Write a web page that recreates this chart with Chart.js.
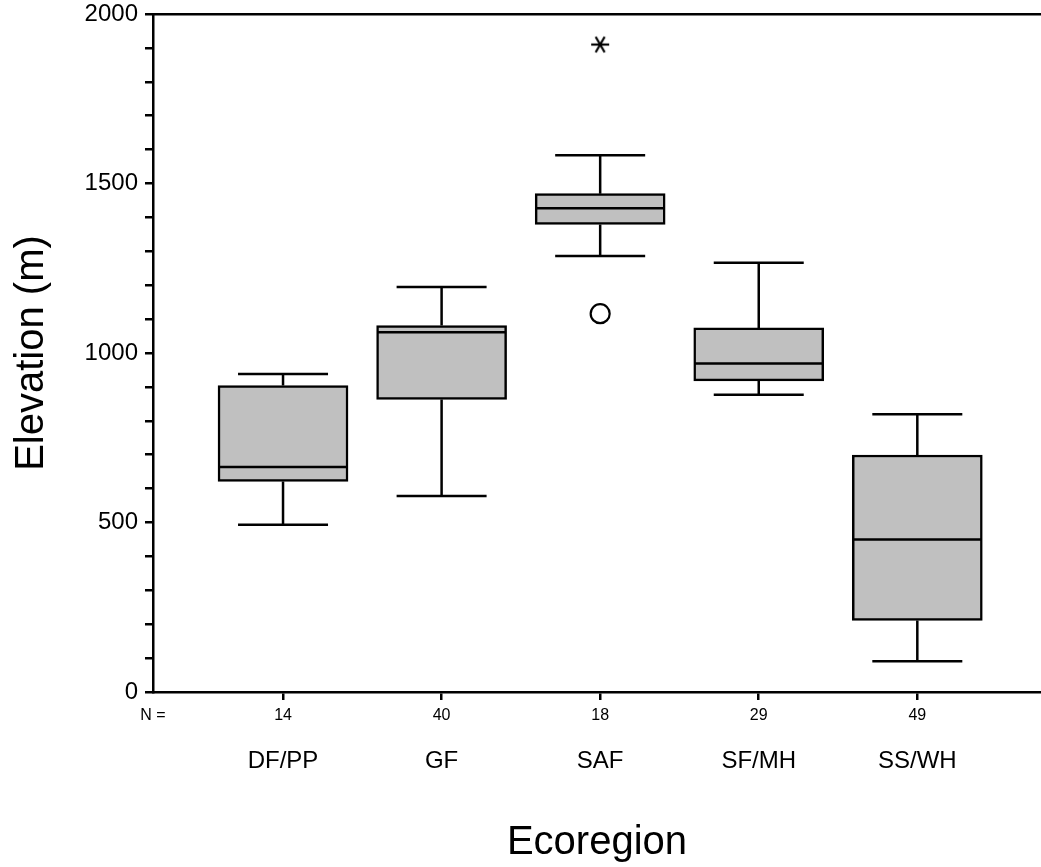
<!DOCTYPE html>
<html><head><meta charset="utf-8">
<script src="https://cdn.jsdelivr.net/npm/chart.js@4/dist/chart.umd.min.js"></script>
<style>html,body{margin:0;padding:0;background:#fff}canvas{display:block}</style>
</head><body>
<canvas id="c" width="1041" height="867"></canvas>
<script>
// ---- data ----
const categories = ['DF/PP', 'GF', 'SAF', 'SF/MH', 'SS/WH'];
const counts = [14, 40, 18, 29, 49];
const whiskerLow = [493, 578, 1286, 877, 91];
const q1 = [621, 863, 1379, 918, 211];
const medians = [664, 1061, 1427, 969, 450];
const q3 = [904, 1081, 1470, 1074, 699];
const whiskerHigh = [938, 1195, 1583, 1266, 819];
const outliers = [{cat: 'SAF', value: 1116}];
const extremes = [{cat: 'SAF', value: 1910}];
const yLabelTicks = [0, 500, 1000, 1500, 2000];

// ---- layout settings ----
const X_MIN = 0.18, X_MAX = 5.78;
const FONT = '"Liberation Sans", Arial, Helvetica, sans-serif';
const LW = 2.5;
const pos = i => i + 1;
const catPos = name => categories.indexOf(name) + 1;

function makeStar(size) {
  const c = document.createElement('canvas');
  c.width = c.height = size;
  const g = c.getContext('2d');
  g.strokeStyle = '#000'; g.lineWidth = 2.2;
  const r = size / 2 - 1;
  g.translate(size / 2, size / 2);
  for (const a of [0, 60, 120]) {
    const t = a * Math.PI / 180;
    g.beginPath();
    g.moveTo(-r * Math.cos(t), -r * Math.sin(t));
    g.lineTo(r * Math.cos(t), r * Math.sin(t));
    g.stroke();
  }
  return c;
}
const starImg = makeStar(20);

const whiskerData = [];
categories.forEach((c, i) => {
  whiskerData.push({x: pos(i), y: q3[i]}, {x: pos(i), y: whiskerHigh[i]}, {x: pos(i), y: null},
                   {x: pos(i), y: q1[i]}, {x: pos(i), y: whiskerLow[i]}, {x: pos(i), y: null});
});

new Chart(document.getElementById('c'), {
  type: 'bar',
  data: {
    datasets: [
      { type: 'bar', label: 'box', order: 5,
        data: categories.map((c, i) => ({x: pos(i), y: [q1[i], q3[i]]})),
        backgroundColor: '#c0c0c0', borderColor: '#000', borderWidth: LW,
        borderSkipped: false, barThickness: 130 },
      { type: 'line', label: 'whiskers', order: 3,
        data: whiskerData, borderColor: '#000', borderWidth: LW,
        pointRadius: 0, spanGaps: false, tension: 0, fill: false },
      { type: 'scatter', label: 'caps', order: 2,
        data: categories.flatMap((c, i) => [{x: pos(i), y: whiskerHigh[i]}, {x: pos(i), y: whiskerLow[i]}]),
        pointStyle: 'line', pointRadius: 45, borderColor: '#000', borderWidth: LW },
      { type: 'scatter', label: 'median', order: 1,
        data: medians.map((m, i) => ({x: pos(i), y: m})),
        pointStyle: 'line', pointRadius: 64, borderColor: '#000', borderWidth: LW },
      { type: 'scatter', label: 'outliers', order: 0,
        data: outliers.map(o => ({x: catPos(o.cat), y: o.value})),
        pointStyle: 'circle', pointRadius: 9.5, backgroundColor: '#fff', borderColor: '#000', borderWidth: 2.2 },
      { type: 'scatter', label: 'extremes', order: 0,
        data: extremes.map(o => ({x: catPos(o.cat), y: o.value})),
        pointStyle: starImg, pointRadius: 10 }
    ]
  },
  options: {
    responsive: false,
    animation: false,
    devicePixelRatio: 1,
    events: [],
    layout: { autoPadding: false, padding: { top: 14, right: 0, bottom: 0, left: 0 } },
    plugins: { legend: { display: false }, tooltip: { enabled: false } },
    scales: {
      x: {
        type: 'linear', position: 'bottom', weight: 1, min: X_MIN, max: X_MAX, offset: false,
        afterBuildTicks: s => { s.ticks = [{value: X_MIN}].concat(categories.map((c, i) => ({value: pos(i)}))); },
        afterFit: s => { s.height = 30; },
        ticks: {
          autoSkip: false, maxRotation: 0, padding: 6, color: '#000',
          font: { family: FONT, size: 16 },
          callback: (v) => v === X_MIN ? 'N =' : String(counts[v - 1])
        },
        grid: {
          display: true, drawOnChartArea: false, drawTicks: true, tickLength: 8, offset: false,
          color: '#000', lineWidth: LW,
          tickColor: ctx => (ctx.tick && ctx.tick.value === X_MIN) ? 'rgba(0,0,0,0)' : '#000'
        },
        border: { display: true, color: '#000', width: LW }
      },
      xCat: {
        type: 'linear', position: 'bottom', weight: 2, min: X_MIN, max: X_MAX, offset: false,
        afterBuildTicks: s => { s.ticks = categories.map((c, i) => ({value: pos(i)})); },
        afterFit: s => { s.height = 145; },
        ticks: {
          autoSkip: false, maxRotation: 0, padding: 17, color: '#000',
          font: { family: FONT, size: 24 },
          callback: (v) => categories[v - 1]
        },
        grid: { display: false },
        border: { display: false },
        title: { display: true, text: 'Ecoregion', color: '#000',
                 font: { family: FONT, size: 40 }, padding: { top: 0, bottom: 0 } }
      },
      xTop: {
        type: 'linear', position: 'top', display: true, min: X_MIN, max: X_MAX,
        afterFit: s => { s.height = 0; },
        ticks: { display: false },
        grid: { display: false, drawTicks: false },
        border: { display: true, color: '#000', width: LW }
      },
      y: {
        type: 'linear', position: 'left', min: 0, max: 2000,
        afterFit: s => { s.width = 153; },
        ticks: {
          stepSize: 100, autoSkip: false, padding: 7, color: '#000',
          font: { family: FONT, size: 24, lineHeight: 0.5 },
          callback: v => yLabelTicks.includes(v) ? String(v) : ''
        },
        grid: { display: true, drawOnChartArea: false, drawTicks: true, tickLength: 8, color: '#000', lineWidth: LW },
        border: { display: true, color: '#000', width: LW },
        title: { display: true, text: 'Elevation (m)', color: '#000',
                 font: { family: FONT, size: 40 }, padding: { top: 8, bottom: 0 } }
      }
    }
  }
});
</script>
</body></html>
